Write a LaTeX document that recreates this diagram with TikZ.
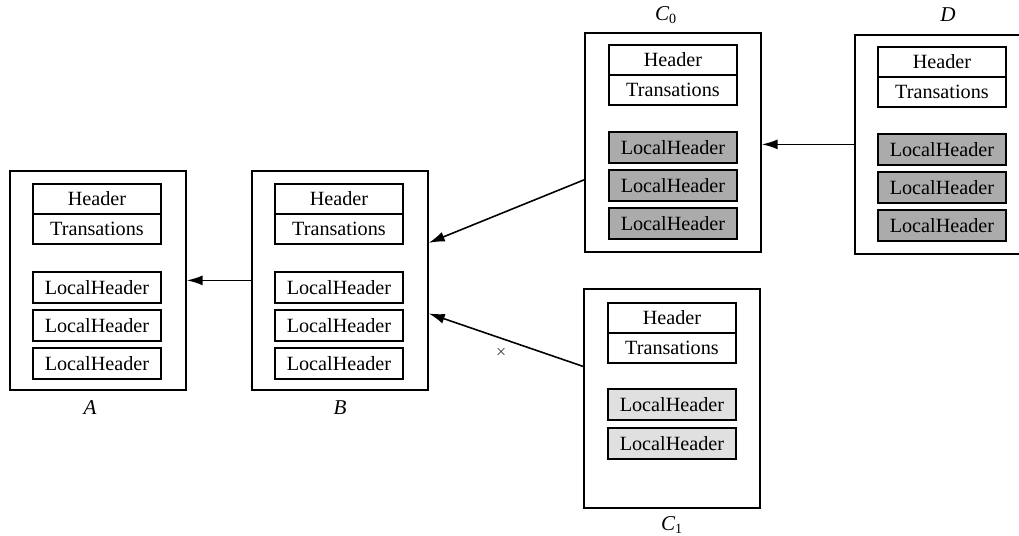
\documentclass[tikz,border=0pt]{standalone}
\usepackage{fontspec}
\setmainfont{Liberation Serif}
\usetikzlibrary{arrows.meta,calc}
\begin{document}
\begin{tikzpicture}[x=0.02cm,y=-0.02cm,
blk/.style={
draw,
line width=1pt,
anchor=north west,
inner sep=0pt,
minimum width=3.52cm,
minimum height=4.38cm,
},
field/.style={
draw,
line width=1.1pt,
anchor=north west,
inner sep=0pt,
minimum width=2.56cm,
minimum height=0.6cm,
font={\fontsize{11.5pt}{13pt}\selectfont},
},
lh/.style={
field,
minimum height=0.62cm,
},
lhdark/.style={
lh,
fill=black!33,
},
lhlight/.style={
lh,
fill=black!12,
},
tag/.style={
font={\fontsize{12pt}{14pt}\selectfont\itshape},
},
link/.style={
line width=0.9pt,
-{Latex[length=3.2mm,width=2mm]},
},
]
\useasboundingbox(0,0)rectangle(1019,535);
\clip(0,0)rectangle(1019,535);
% block A
\node[blk](A)at(9,170){};
\node[field](Ah)at(32,183){Header};
\node[field](At)at(32,213){Transations};
\node[lh](Al1)at(32,271){LocalHeader};
\node[lh](Al2)at(32,309){LocalHeader};
\node[lh](Al3)at(32,347){LocalHeader};
\node[tag](An)at(90,408){A};
% block B
\node[blk](B)at(251,170){};
\node[field](Bh)at(274,183){Header};
\node[field](Bt)at(274,213){Transations};
\node[lh](Bl1)at(274,271){LocalHeader};
\node[lh](Bl2)at(274,309){LocalHeader};
\node[lh](Bl3)at(274,347){LocalHeader};
\node[tag](Bn)at(340,408){B};
% block C0
\node[blk](C0)at(584,32){};
\node[field](C0h)at(608,44){Header};
\node[field](C0t)at(608,74){Transations};
\node[lhdark](C0l1)at(608,131){LocalHeader};
\node[lhdark](C0l2)at(608,169){LocalHeader};
\node[lhdark](C0l3)at(608,207){LocalHeader};
\node[tag](C0n)at(666,15){C\textsubscript{\upshape 0}};
% block C1
\node[blk](C1)at(583,288){};
\node[field](C1h)at(607,302){Header};
\node[field](C1t)at(607,332){Transations};
\node[lhlight](C1l1)at(607,388){LocalHeader};
\node[lhlight](C1l2)at(607,427){LocalHeader};
\node[tag](C1n)at(672,525){C\textsubscript{\upshape 1}};
% block D (cut off at the right edge)
\node[blk,minimum width=3.8cm](D)at(854,34){};
\node[field](Dh)at(877,46){Header};
\node[field](Dt)at(877,76){Transations};
\node[lhdark](Dl1)at(877,133){LocalHeader};
\node[lhdark](Dl2)at(877,171){LocalHeader};
\node[lhdark](Dl3)at(877,209){LocalHeader};
\node[tag](Dn)at(948,15){D};
% links
\draw[link](B.west)--(A.east);
\draw[link](D.west)--(C0.east |- D.west);
\draw[link]($(C0.north west)!0.67!(C0.south west)$)--($(B.north east)!0.33!(B.south east)$);
\draw[link]($(C1.north west)!0.355!(C1.south west)$)--node[pos=0.53,below=1pt,font=\footnotesize]{$\times$}($(B.north east)!0.65!(B.south east)$);

\end{tikzpicture}
\end{document}
